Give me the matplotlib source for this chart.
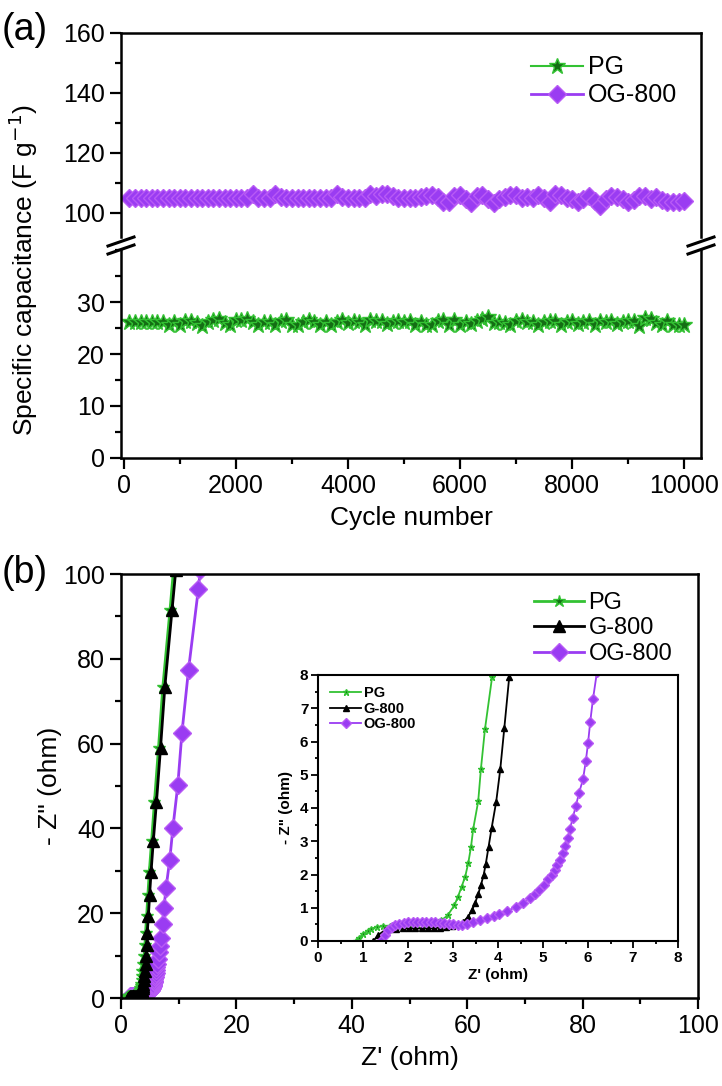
import matplotlib
matplotlib.use('Agg')
import matplotlib.pyplot as plt
from matplotlib.lines import Line2D
from matplotlib.ticker import MultipleLocator

plt.rcParams['font.family'] = ['Liberation Sans', 'DejaVu Sans']

W, H = 722, 1086

# (a) cycling stability, one point every 100 cycles
cycles = list(range(100, 10001, 100))
pg_cap = [26.2, 26.2, 26.2, 26.2, 26.2, 26.2, 26.2, 25.5, 26.2, 25.6,
          26.3, 26.4, 26.0, 25.3, 26.2, 26.6, 26.8, 26.0, 25.5, 26.5,
          26.6, 26.8, 26.2, 25.6, 26.2, 26.2, 25.6, 26.4, 26.5, 25.6,
          25.6, 26.2, 26.5, 26.2, 25.6, 26.2, 25.5, 26.2, 26.5, 25.9,
          26.4, 26.2, 25.6, 26.5, 26.4, 26.3, 25.7, 26.2, 26.4, 26.1,
          26.3, 25.6, 26.2, 25.5, 25.6, 26.3, 26.5, 25.5, 26.5, 25.6,
          26.2, 25.7, 26.4, 26.8, 27.2, 25.9, 26.2, 26.0, 25.6, 26.3,
          26.5, 26.2, 26.2, 25.5, 26.2, 26.4, 26.3, 25.6, 26.2, 26.4,
          25.7, 26.2, 26.3, 25.6, 26.3, 26.2, 26.4, 25.8, 26.2, 26.3,
          26.4, 25.3, 26.9, 26.7, 26.0, 25.5, 26.4, 25.5, 25.6, 25.5]
og_cap = [105.0, 105.0, 105.0, 105.0, 105.0, 105.0, 105.0, 105.0, 105.0, 105.0,
          105.0, 105.0, 105.0, 105.0, 105.0, 105.0, 105.0, 105.0, 105.0, 105.0,
          105.0, 105.0, 106.2, 105.0, 105.0, 105.0, 106.3, 105.2, 105.0, 105.0,
          105.0, 105.0, 105.0, 105.0, 105.0, 105.0, 105.0, 106.2, 105.3, 105.0,
          105.0, 105.0, 105.0, 106.3, 105.5, 106.4, 106.4, 105.5, 105.0, 105.0,
          105.0, 105.0, 105.2, 105.6, 106.1, 105.2, 103.6, 103.6, 105.7, 106.0,
          104.5, 103.4, 105.6, 106.1, 104.6, 103.3, 104.8, 105.2, 106.1, 106.0,
          105.0, 105.3, 105.0, 106.0, 105.0, 103.6, 106.3, 106.0, 105.0, 104.5,
          103.6, 104.8, 105.8, 104.0, 102.3, 104.6, 105.6, 105.4, 104.6, 103.6,
          104.3, 105.5, 105.6, 104.8, 105.4, 104.2, 103.6, 103.6, 103.8, 103.9]

# (b) Nyquist plots: Z' and -Z'' in ohm
pg_zr = [0.85, 0.92, 1.0, 1.1, 1.18, 1.3, 1.45, 1.6, 1.75, 1.9,
         2.05, 2.2, 2.35, 2.5, 2.62, 2.74, 2.88, 3.03, 3.11, 3.19,
         3.27, 3.34, 3.40, 3.45, 3.56, 3.62, 3.71, 3.87, 4.05, 4.15,
         4.25, 4.45, 4.65, 4.9, 5.3, 5.8, 6.5, 7.25, 8.5, 9.1]
pg_zi = [0.0, 0.1, 0.22, 0.3, 0.37, 0.42, 0.45, 0.46, 0.47, 0.47,
         0.47, 0.47, 0.48, 0.5, 0.55, 0.62, 0.77, 1.07, 1.33, 1.63,
         1.93, 2.35, 2.83, 3.38, 4.2, 5.17, 6.37, 7.95, 10.0, 12.5,
         15.4, 19.4, 24.2, 29.6, 37.0, 46.3, 59.0, 73.4, 91.6, 101.0]
g_zr = [1.23, 1.33, 1.48, 1.6, 1.74, 1.88, 2.02, 2.16, 2.3, 2.44,
        2.58, 2.72, 2.85, 2.97, 3.1, 3.22, 3.33, 3.42, 3.49, 3.56,
        3.62, 3.68, 3.73, 3.79, 3.86, 3.96, 4.05, 4.14, 4.25, 4.35,
        4.45, 4.55, 4.75, 4.95, 5.2, 5.6, 6.15, 6.85, 7.6, 8.85, 9.5]
g_zi = [0.0, 0.17, 0.32, 0.36, 0.37, 0.38, 0.38, 0.38, 0.38, 0.38,
        0.39, 0.40, 0.42, 0.45, 0.5, 0.57, 0.72, 0.92, 1.14, 1.41,
        1.68, 1.98, 2.33, 2.83, 3.41, 4.19, 5.16, 6.4, 7.95, 10.0,
        12.5, 15.4, 19.4, 24.2, 29.6, 37.0, 46.3, 59.0, 73.4, 91.6, 101.0]
og_zr = [1.4, 1.48, 1.56, 1.64, 1.72, 1.8, 1.9, 2.0, 2.1, 2.2,
         2.3, 2.4, 2.5, 2.6, 2.7, 2.8, 2.9, 3.0, 3.1, 3.2,
         3.3, 3.45, 3.6, 3.75, 3.9, 4.03, 4.2, 4.4, 4.55, 4.7,
         4.82, 4.92, 5.02, 5.12, 5.2, 5.26, 5.32, 5.38, 5.44, 5.49,
         5.55, 5.6, 5.66, 5.73, 5.8, 5.89, 5.95, 6.0, 6.05, 6.11,
         6.2, 6.35, 6.55, 6.72, 6.9, 7.2, 7.45, 7.8, 8.45, 9.0,
         9.85, 10.55, 11.7, 13.4, 13.75]
og_zi = [0.0, 0.18, 0.32, 0.42, 0.48, 0.52, 0.55, 0.57, 0.58, 0.58,
         0.58, 0.58, 0.57, 0.56, 0.55, 0.53, 0.51, 0.5, 0.49, 0.48,
         0.5, 0.56, 0.62, 0.7, 0.76, 0.82, 0.9, 1.02, 1.15, 1.28,
         1.4, 1.53, 1.68, 1.86, 2.0, 2.13, 2.28, 2.43, 2.64, 2.86,
         3.1, 3.37, 3.7, 4.06, 4.45, 4.87, 5.4, 5.94, 6.6, 7.27,
         8.1, 9.3, 10.8, 12.3, 14.2, 17.4, 21.3, 25.9, 32.6, 40.2,
         50.3, 62.4, 77.4, 96.4, 101.0]

GREEN = '#33c233'
GREEN_DARK = '#146e14'
VIOLET = '#9a3cf2'
VIOLET_EDGE = '#b85af5'


def box(l, t, r, b):
    # pixel box -> figure fraction rect
    return [l / W, 1 - b / H, (r - l) / W, (b - t) / H]


def style(ax, size=18, major=8, minor=4.3, width=1.6, pad=3.5, spine=1.8):
    ax.tick_params(which='both', direction='out', top=False, right=False,
                   width=width, labelsize=size)
    ax.tick_params(which='major', length=major, pad=pad)
    ax.tick_params(which='minor', length=minor)
    for s in ax.spines.values():
        s.set_linewidth(spine)


fig = plt.figure(figsize=(W / 100, H / 100), dpi=100)

# ---- (a) broken y axis
ax_hi = fig.add_axes(box(121, 33, 701, 237))
ax_lo = fig.add_axes(box(121, 250, 701, 458))

l_og, = ax_hi.plot(cycles, og_cap, '-D', color=VIOLET, lw=2, ms=9.5,
                   mfc=VIOLET, mec=VIOLET_EDGE, mew=1, label='OG-800')
l_pg, = ax_lo.plot(cycles, pg_cap, '-*', color=GREEN, lw=1.5, ms=12,
                   mfc=GREEN_DARK, mec=GREEN, mew=1, label='PG')

for ax in (ax_hi, ax_lo):
    ax.set_xlim(-50, 10300)
    style(ax)
    ax.xaxis.set_major_locator(MultipleLocator(2000))
    ax.xaxis.set_minor_locator(MultipleLocator(1000))
    ax.yaxis.set_minor_locator(MultipleLocator(10 if ax is ax_hi else 5))
ax_hi.set_ylim(92, 160)
ax_hi.yaxis.set_major_locator(MultipleLocator(20))
ax_hi.spines['bottom'].set_visible(False)
ax_hi.tick_params(which='both', bottom=False, labelbottom=False)
ax_lo.set_ylim(0, 40)
ax_lo.set_yticks([0, 10, 20, 30])
ax_lo.spines['top'].set_visible(False)
ax_lo.set_xlabel('Cycle number', fontsize=19, labelpad=6)

# break marks on both side spines
for xc in (121, 701):
    for dy in (0, 8):
        fig.add_artist(Line2D([(xc - 13) / W, (xc + 13) / W],
                              [1 - (246 + dy) / H, 1 - (237 + dy) / H],
                              color='black', lw=2.2))

fig.text(23 / W, 1 - 270 / H, 'Specific capacitance (F g$^{-1}$)',
         rotation=90, ha='center', va='center', fontsize=19)
fig.text(2 / W, 1 - 30 / H, '(a)', ha='left', va='center', fontsize=27)
fig.legend(handles=[l_pg, l_og], loc='upper right', frameon=False,
           fontsize=18, handlelength=2.1, handletextpad=0.2, labelspacing=0.15,
           borderpad=0, bbox_to_anchor=(690 / W, 1 - 43 / H))

# ---- (b) Nyquist; OG first so the black G-800 trace sits on top near 0
ax_b = fig.add_axes(box(121, 574, 698, 998))
b_og, = ax_b.plot(og_zr, og_zi, '-D', color=VIOLET, lw=2, ms=9, mfc=VIOLET,
                  mec=VIOLET_EDGE, label='OG-800')
b_pg, = ax_b.plot(pg_zr, pg_zi, '-*', color=GREEN, lw=2, ms=9,
                  mfc=GREEN_DARK, mec=GREEN, label='PG')
b_g, = ax_b.plot(g_zr, g_zi, '-^', color='black', lw=2, ms=8, label='G-800')
ax_b.set_xlim(0, 100)
ax_b.set_ylim(0, 100)
style(ax_b)
ax_b.xaxis.set_major_locator(MultipleLocator(20))
ax_b.xaxis.set_minor_locator(MultipleLocator(10))
ax_b.yaxis.set_major_locator(MultipleLocator(20))
ax_b.yaxis.set_minor_locator(MultipleLocator(10))
ax_b.set_xlabel("Z' (ohm)", fontsize=19, labelpad=6)
fig.text(50 / W, 1 - 786 / H, '- Z" (ohm)', rotation=90, ha='center',
         va='center', fontsize=19)
fig.text(2 / W, 1 - 573 / H, '(b)', ha='left', va='center', fontsize=27)
ax_b.legend(handles=[b_pg, b_g, b_og], loc='upper right', frameon=False,
            fontsize=17, handlelength=2.1, handletextpad=0.2,
            labelspacing=0.15, borderpad=0, bbox_transform=fig.transFigure,
            bbox_to_anchor=(684 / W, 1 - 580 / H))

# ---- inset
ax_in = fig.add_axes(box(318, 675, 678, 941))
ax_in.set_zorder(5)
ax_in.plot(pg_zr, pg_zi, '-*', color=GREEN, lw=1.3, ms=5, mfc=GREEN_DARK,
           mec=GREEN, label='PG')
ax_in.plot(g_zr, g_zi, '-^', color='black', lw=1.3, ms=5, label='G-800')
ax_in.plot(og_zr, og_zi, '-D', color=VIOLET, lw=1.3, ms=5, mfc=VIOLET,
           mec=VIOLET_EDGE, label='OG-800')
ax_in.set_xlim(0, 8)
ax_in.set_ylim(0, 8)
style(ax_in, size=11, major=5, minor=2.5, width=1.3, pad=2, spine=1.5)
ax_in.xaxis.set_major_locator(MultipleLocator(1))
ax_in.xaxis.set_minor_locator(MultipleLocator(0.5))
ax_in.yaxis.set_major_locator(MultipleLocator(1))
ax_in.yaxis.set_minor_locator(MultipleLocator(0.5))
for t in ax_in.get_xticklabels() + ax_in.get_yticklabels():
    t.set_fontweight('bold')
ax_in.set_xlabel("Z' (ohm)", fontsize=11, fontweight='bold', labelpad=2)
ax_in.set_ylabel('- Z" (ohm)', fontsize=11, fontweight='bold', labelpad=5)
ax_in.legend(loc='upper left', frameon=False, handlelength=2.1,
             handletextpad=0.2, labelspacing=0.1, borderpad=0,
             bbox_transform=fig.transFigure,
             bbox_to_anchor=(323 / W, 1 - 679 / H),
             prop={'size': 10.5, 'weight': 'bold'})

fig.savefig('out.png', dpi=100)
